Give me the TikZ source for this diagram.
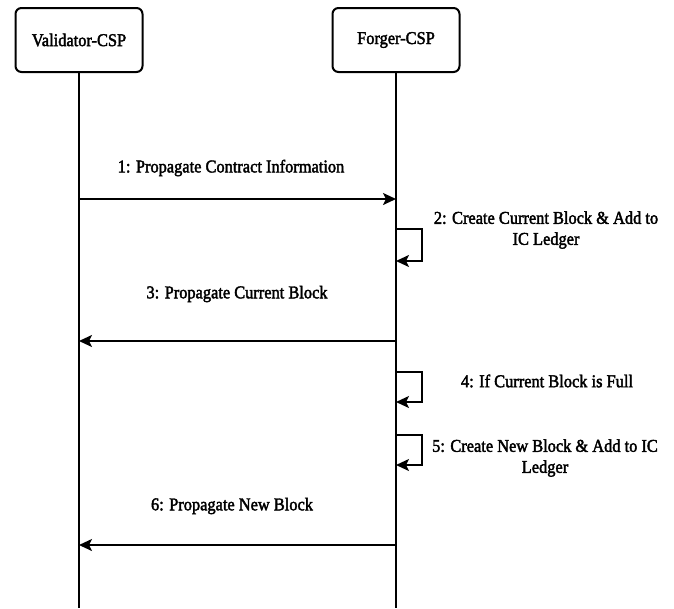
\documentclass[tikz,border=0pt]{standalone}
\usepackage{fontspec}
\setmainfont{Liberation Serif}[FakeBold=2.2,FakeStretch=0.91]
\usetikzlibrary{positioning,arrows.meta}

\begin{document}
\begin{tikzpicture}[x=1pt,y=-1pt,
      actor/.style={draw,line width=2pt,rounded corners=6pt,minimum width=127pt,
                    minimum height=64pt,font=\fontsize{18}{21}\selectfont},
      life/.style={line width=2pt},
      msg/.style={line width=2pt,-{Stealth[length=13pt,width=12pt,inset=3pt]}},
      lbl/.style={font=\fontsize{18}{21}\selectfont,align=center}]

    \useasboundingbox (0,0) rectangle (674,608);

    % participants
    \node[actor] (vcsp) at (79,40) {Validator-CSP};
    \node[actor] (fcsp) at (396,40) {Forger-CSP};

    \coordinate (vend) at (79,608);
    \coordinate (fend) at (396,608);
    \draw[life] (vcsp) -- (vend);
    \draw[life] (fcsp) -- (fend);

    % 1
    \coordinate (v1) at (79,199);
    \coordinate (f1) at (396,199);
    \draw[msg] (v1) -- (f1);
    \node[lbl] (l1) at (231,168) {1: Propagate Contract Information};

    % 2 (self call)
    \coordinate (f2a) at (396,229);
    \coordinate (f2b) at (396,261);
    \draw[msg] (f2a) -- ++(26,0) -- ++(0,32) -- (f2b);
    \node[lbl] (l2) at (546,230) {2: Create Current Block \& Add to\\IC Ledger};

    % 3
    \coordinate (f3) at (396,341);
    \coordinate (v3) at (79,341);
    \draw[msg] (f3) -- (v3);
    \node[lbl] (l3) at (237,294) {3: Propagate Current Block};

    % 4 (self call)
    \coordinate (f4a) at (396,372);
    \coordinate (f4b) at (396,402);
    \draw[msg] (f4a) -- ++(26,0) -- ++(0,30) -- (f4b);
    \node[lbl] (l4) at (547,381) {4: If Current Block is Full};

    % 5 (self call)
    \coordinate (f5a) at (396,435);
    \coordinate (f5b) at (396,465);
    \draw[msg] (f5a) -- ++(26,0) -- ++(0,30) -- (f5b);
    \node[lbl] (l5) at (545,458) {5: Create New Block \& Add to IC\\Ledger};

    % 6
    \coordinate (f6) at (396,545);
    \coordinate (v6) at (79,545);
    \draw[msg] (f6) -- (v6);
    \node[lbl] (l6) at (232,506) {6: Propagate New Block};
  \end{tikzpicture}
\end{document}
